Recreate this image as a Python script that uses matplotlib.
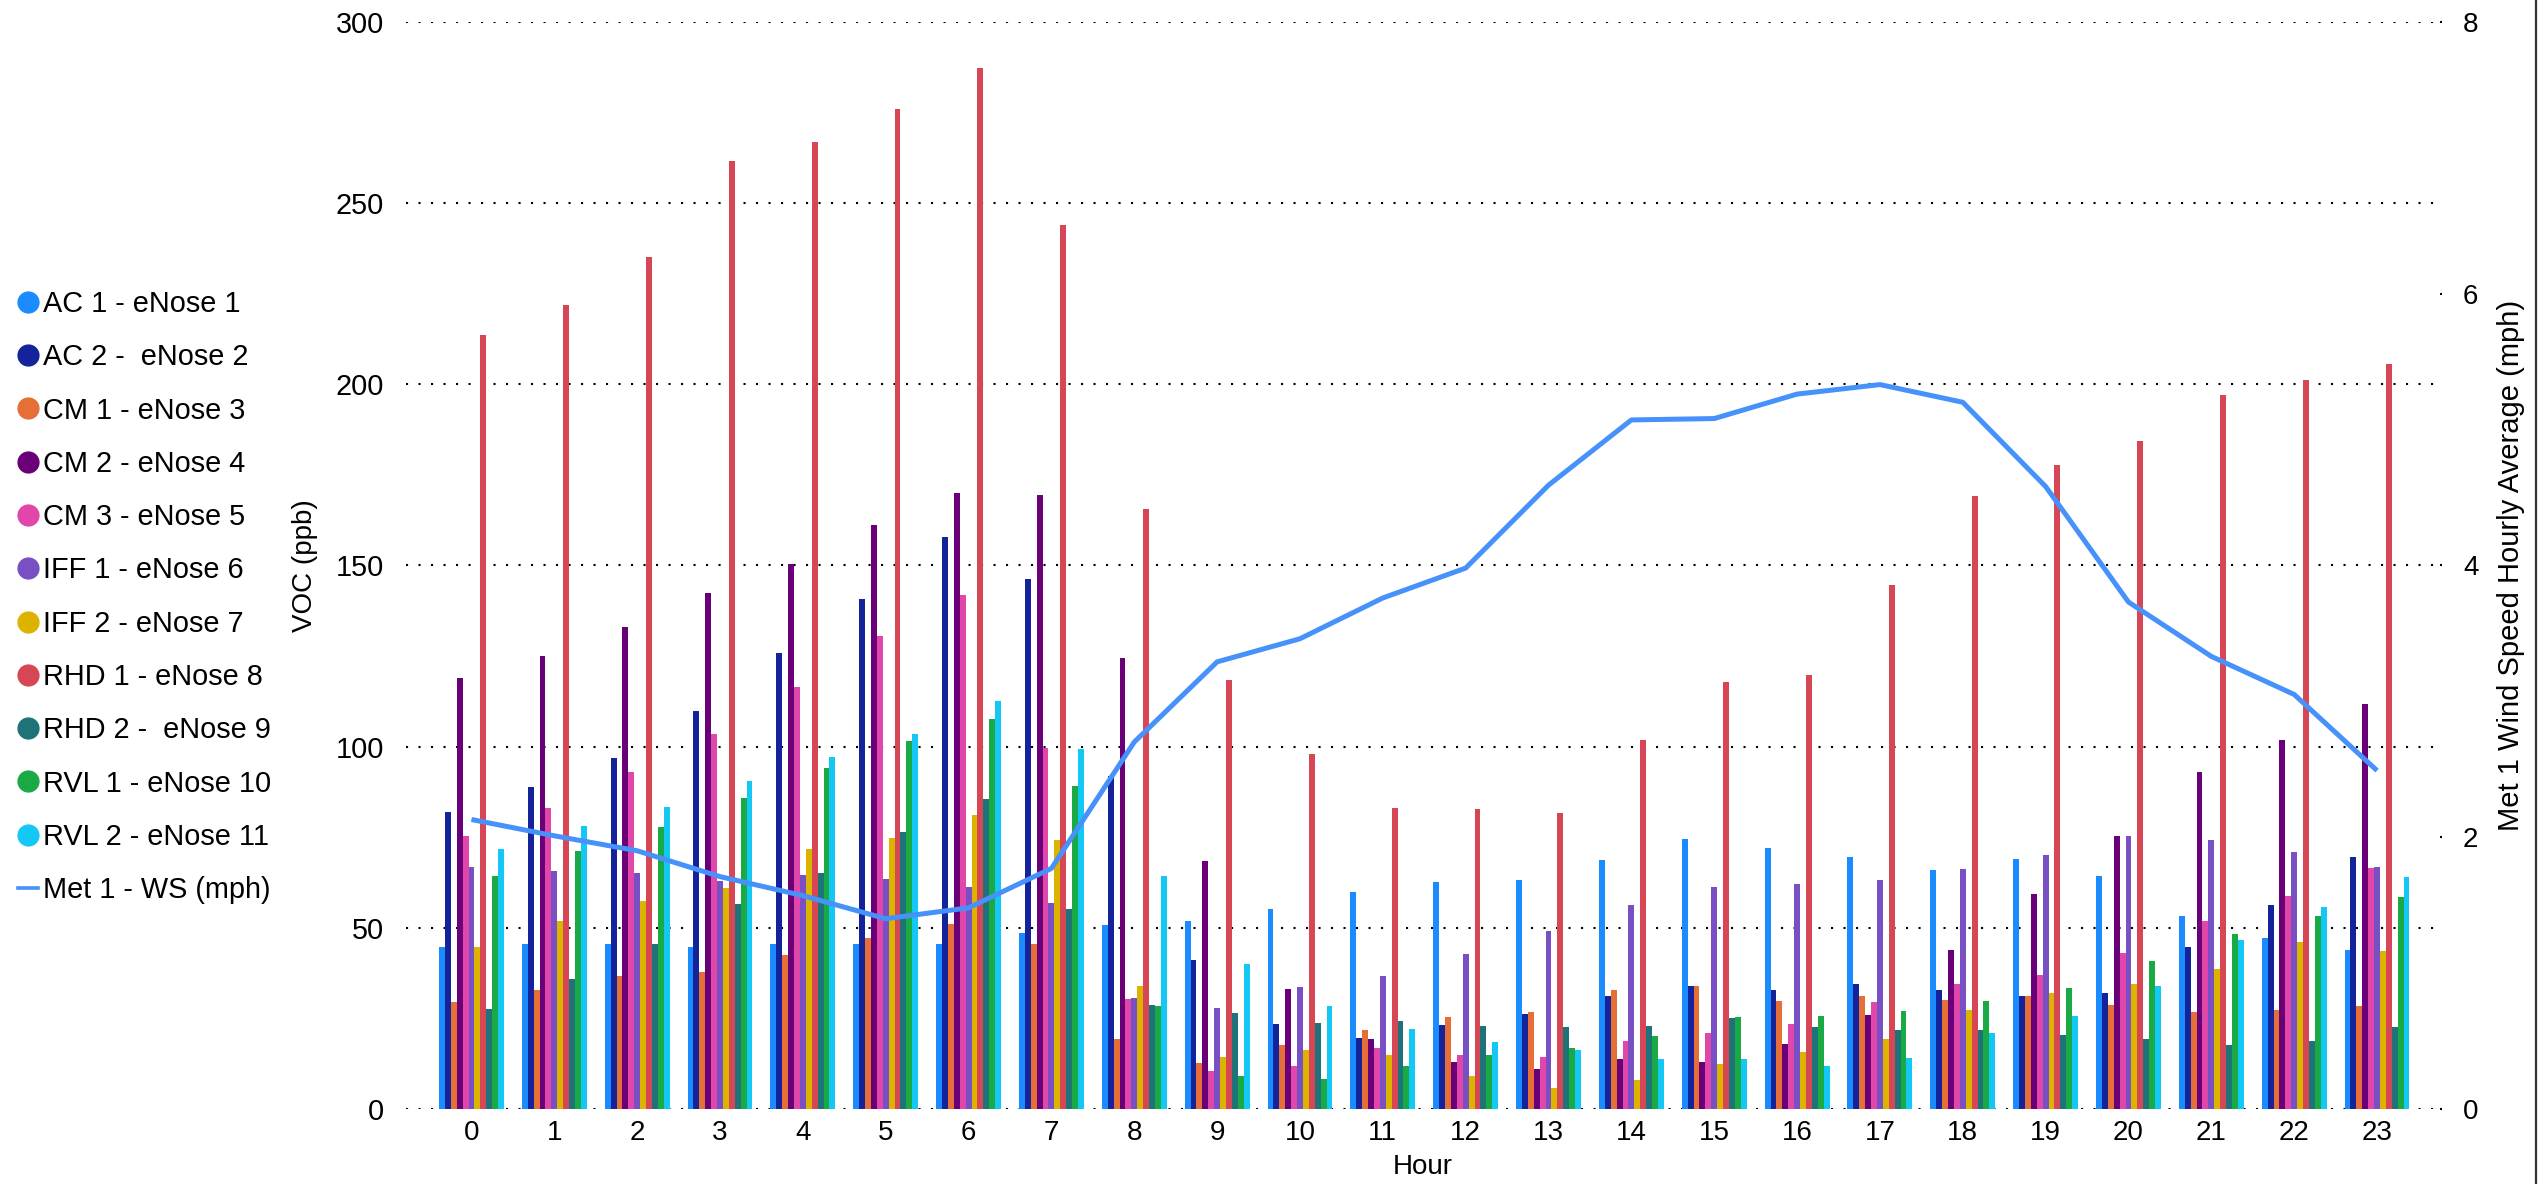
import matplotlib
matplotlib.use("Agg")
import matplotlib.pyplot as plt
from matplotlib.lines import Line2D
import numpy as np

plt.rcParams['font.family'] = ['Liberation Sans', 'DejaVu Sans']

hours = list(range(24))
series_names = ["AC 1 - eNose 1", "AC 2 -  eNose 2", "CM 1 - eNose 3", "CM 2 - eNose 4",
                "CM 3 - eNose 5", "IFF 1 - eNose 6", "IFF 2 - eNose 7", "RHD 1 - eNose 8",
                "RHD 2 -  eNose 9", "RVL 1 - eNose 10", "RVL 2 - eNose 11"]
line_name = "Met 1 - WS (mph)"

ac1 = [44.6, 45.4, 45.4, 44.8, 45.6, 45.6, 45.6, 48.5, 50.8, 51.8, 55.2, 60.0, 62.7, 63.3, 68.7, 74.5, 72.0, 69.5, 66.0, 68.9, 64.3, 53.3, 47.3, 43.9]
ac2 = [82.0, 88.9, 96.8, 109.7, 125.8, 140.7, 157.8, 146.2, 91.8, 41.2, 23.5, 19.6, 23.3, 26.2, 31.2, 33.9, 32.9, 34.6, 32.9, 31.2, 32.1, 44.6, 56.2, 69.5]
cm1 = [29.4, 32.9, 36.6, 37.9, 42.5, 47.3, 51.0, 45.4, 19.4, 12.7, 17.7, 21.9, 25.4, 26.9, 32.9, 33.9, 29.8, 31.2, 30.2, 31.2, 28.7, 26.9, 27.3, 28.5]
cm2 = [118.9, 124.9, 133.0, 142.4, 150.5, 161.1, 169.9, 169.3, 124.5, 68.5, 33.1, 19.4, 13.1, 11.0, 13.9, 13.1, 17.9, 26.0, 43.9, 59.3, 75.4, 93.1, 101.8, 111.8]
cm3 = [75.4, 83.1, 93.1, 103.5, 116.4, 130.5, 141.8, 99.5, 30.4, 10.6, 11.9, 16.7, 15.0, 14.4, 18.7, 21.0, 23.5, 29.6, 34.4, 37.1, 43.1, 51.8, 58.7, 66.4]
iff1 = [66.8, 65.8, 65.2, 63.0, 64.5, 63.5, 61.2, 56.8, 30.6, 27.9, 33.7, 36.6, 42.9, 49.1, 56.2, 61.2, 62.0, 63.3, 66.2, 70.2, 75.2, 74.3, 71.0, 66.8]
iff2 = [44.6, 51.8, 57.5, 61.0, 71.8, 74.7, 81.2, 74.3, 33.9, 14.4, 16.2, 14.8, 9.0, 5.8, 8.1, 12.3, 15.8, 19.2, 27.3, 31.9, 34.6, 38.7, 46.0, 43.7]
rhd1 = [213.6, 221.7, 235.1, 261.5, 266.9, 275.9, 287.3, 243.8, 165.5, 118.3, 97.9, 83.1, 82.9, 81.6, 101.8, 117.8, 119.7, 144.5, 169.1, 177.6, 184.3, 197.0, 201.1, 205.5]
rhd2 = [27.7, 35.8, 45.4, 56.6, 65.0, 76.4, 85.4, 55.2, 28.7, 26.4, 23.7, 24.4, 22.9, 22.7, 22.9, 25.2, 22.7, 21.9, 21.9, 20.4, 19.2, 17.7, 18.7, 22.7]
rvl1 = [64.3, 71.2, 77.9, 85.8, 94.1, 101.6, 107.6, 89.1, 28.5, 9.2, 8.3, 11.9, 14.8, 16.7, 20.2, 25.4, 25.6, 27.1, 29.8, 33.5, 40.8, 48.3, 53.3, 58.5]
rvl2 = [71.8, 78.1, 83.3, 90.6, 97.0, 103.5, 112.6, 99.3, 64.3, 40.0, 28.5, 22.1, 18.5, 16.2, 13.9, 13.9, 11.9, 14.2, 21.0, 25.6, 33.9, 46.6, 55.6, 64.1]
ws = [2.13, 2.01, 1.90, 1.71, 1.57, 1.40, 1.48, 1.77, 2.70, 3.29, 3.46, 3.76, 3.98, 4.59, 5.07, 5.08, 5.26, 5.33, 5.20, 4.58, 3.73, 3.33, 3.05, 2.49]

colors = ['#1A8CFF', '#15239B', '#E66E37', '#690078', '#E146AA', '#7850C3',
          '#DCB400', '#D74655', '#1E7378', '#19AA46', '#14C8F5']
line_color = '#4691FA'

all_series = [ac1, ac2, cm1, cm2, cm3, iff1, iff2, rhd1, rhd2, rvl1, rvl2]

W, H = 2539, 1184
fig = plt.figure(figsize=(W / 100, H / 100), dpi=100)
ax_l, ax_r, ax_t, ax_b = 406, 2440, 21.7, 1109
ax = fig.add_axes([ax_l / W, 1 - ax_b / H, (ax_r - ax_l) / W, (ax_b - ax_t) / H])

x = np.array(hours, dtype=float)
bw = 0.0712
n = len(all_series)
for i, (vals, c) in enumerate(zip(all_series, colors)):
    ax.bar(x + (i - (n - 1) / 2) * bw, vals, width=bw, color=c, linewidth=0, zorder=2)

ax.set_xlim(-0.79, 23.76)
ax.set_ylim(0, 300)
ax.set_yticks(np.arange(0, 301, 50))
ax.set_xticks(hours)
ax.set_xticklabels([str(h) for h in hours])
ax.grid(axis='y', color='black', linestyle=(0, (1, 5)), linewidth=1.5, zorder=0)
ax.set_axisbelow(True)
for s in ax.spines.values():
    s.set_visible(False)
ax.tick_params(axis='y', length=0, pad=16, labelsize=20.8)
ax.tick_params(axis='x', length=0, pad=8, labelsize=20)
ax.set_xlabel("Hour", fontsize=20, labelpad=6)
ax.set_ylabel("VOC (ppb)", fontsize=20)
ax.yaxis.set_label_coords(-0.0433, 0.5)

ax2 = ax.twinx()
ax2.plot(x, ws, color=line_color, linewidth=3.6, zorder=5, solid_capstyle='butt')
ax2.set_ylim(0, 8)
ax2.set_yticks([0, 2, 4, 6, 8])
for s in ax2.spines.values():
    s.set_visible(False)
ax2.tick_params(axis='y', length=1.5, width=1.5, pad=15, labelsize=20, color='black')
ax2.set_ylabel("Met 1 Wind Speed Hourly Average (mph)", fontsize=21)
ax2.yaxis.set_label_coords(1.028, 0.5)

handles = [Line2D([], [], marker='o', color=c, linestyle='none', markersize=15) for c in colors]
handles.append(Line2D([], [], color=line_color, linewidth=2.6))
labels = series_names + [line_name]
fig.legend(handles, labels, loc='upper left', bbox_to_anchor=(18 / W, 1 - 290 / H),
           frameon=False, fontsize=20.8, handlelength=0.7, handletextpad=0.17,
           labelspacing=0.875, borderpad=0, borderaxespad=0)

fig.add_artist(Line2D([2536 / W, 2536 / W], [0, 1], transform=fig.transFigure,
                      color='#333333', linewidth=1.6))

fig.savefig("out.png", dpi=100)
